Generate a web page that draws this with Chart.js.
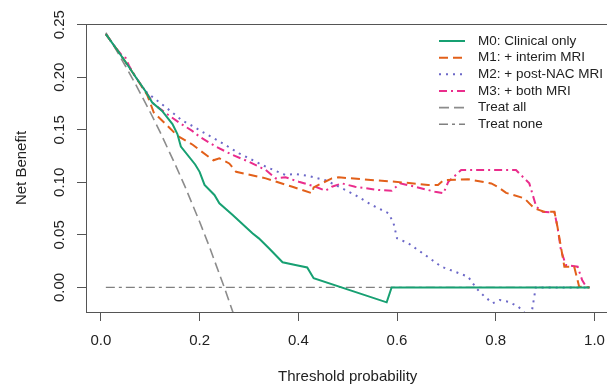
<!DOCTYPE html>
<html>
<head>
<meta charset="utf-8">
<script src="https://cdn.jsdelivr.net/npm/chart.js@4.4.1/dist/chart.umd.min.js"></script>
<style>
  html, body { margin: 0; padding: 0; background: #fff; overflow: hidden; }
  #wrap { width: 616px; height: 386px; }
</style>
</head>
<body>
<div id="wrap"><canvas id="dca" width="616" height="386"></canvas></div>
<script>
// Net benefit vs threshold probability
const m0T = [0.01, 0.03, 0.05, 0.07, 0.09, 0.104, 0.124, 0.145, 0.155, 0.162, 0.191, 0.2, 0.21, 0.23, 0.24, 0.267, 0.307, 0.32, 0.341, 0.368, 0.394, 0.418, 0.431, 0.579, 0.589, 0.99];
const m0NB = [0.241, 0.228, 0.2145, 0.2005, 0.187, 0.176, 0.168, 0.1555, 0.146, 0.134, 0.117, 0.110, 0.0975, 0.088, 0.080, 0.069, 0.0515, 0.0467, 0.037, 0.0239, 0.0213, 0.019, 0.0087, -0.0142, 0, 0];

const m1T = [0.01, 0.03, 0.05, 0.07, 0.094, 0.107, 0.131, 0.155, 0.186, 0.2, 0.228, 0.24, 0.26, 0.274, 0.334, 0.388, 0.428, 0.431, 0.468, 0.482, 0.529, 0.596, 0.663, 0.683, 0.694, 0.744, 0.791, 0.804, 0.821, 0.858, 0.868, 0.878, 0.898, 0.919, 0.925, 0.932, 0.939, 0.959, 0.969, 0.99];
const m1NB = [0.241, 0.228, 0.2145, 0.2005, 0.183, 0.1666, 0.1555, 0.1444, 0.1358, 0.1307, 0.121, 0.1229, 0.118, 0.110, 0.1038, 0.0958, 0.0896, 0.0952, 0.1038, 0.1048, 0.1029, 0.1006, 0.0975, 0.0975, 0.102, 0.1029, 0.099, 0.0958, 0.090, 0.0848, 0.080, 0.0753, 0.072, 0.072, 0.0578, 0.0388, 0.0197, 0.0197, 0.0007, 0];

const m2T = [0.01, 0.03, 0.05, 0.07, 0.087, 0.104, 0.138, 0.165, 0.192, 0.2, 0.24, 0.28, 0.334, 0.374, 0.394, 0.421, 0.455, 0.475, 0.515, 0.549, 0.583, 0.593, 0.6, 0.623, 0.657, 0.69, 0.717, 0.744, 0.761, 0.778, 0.794, 0.808, 0.825, 0.845, 0.86, 0.872, 0.878, 0.881, 0.99];
const m2NB = [0.241, 0.228, 0.2145, 0.2005, 0.188, 0.1815, 0.169, 0.1587, 0.152, 0.1495, 0.139, 0.1276, 0.1149, 0.107, 0.108, 0.106, 0.102, 0.0975, 0.088, 0.0784, 0.0705, 0.061, 0.0467, 0.042, 0.0308, 0.0197, 0.015, 0.0102, -0.001, -0.009, -0.015, -0.012, -0.0136, -0.018, -0.025, -0.026, -0.009, 0, 0];

const m3T = [0.01, 0.03, 0.045, 0.05, 0.057, 0.07, 0.09, 0.107, 0.131, 0.158, 0.185, 0.2, 0.233, 0.267, 0.3, 0.334, 0.354, 0.374, 0.401, 0.435, 0.455, 0.468, 0.488, 0.515, 0.563, 0.589, 0.606, 0.637, 0.677, 0.694, 0.704, 0.73, 0.841, 0.868, 0.882, 0.895, 0.919, 0.925, 0.932, 0.942, 0.966, 0.975, 0.983, 0.99];
const m3NB = [0.241, 0.228, 0.2195, 0.2185, 0.211, 0.2005, 0.187, 0.1745, 0.166, 0.157, 0.149, 0.1434, 0.134, 0.126, 0.1196, 0.1117, 0.1038, 0.1048, 0.1006, 0.0958, 0.092, 0.0958, 0.099, 0.0958, 0.0927, 0.092, 0.099, 0.0958, 0.091, 0.0896, 0.1006, 0.1117, 0.1117, 0.099, 0.0768, 0.072, 0.0711, 0.0578, 0.0356, 0.0213, 0.0197, 0.007, 0.0007, 0];

const allT = [0.01, 0.03, 0.05, 0.07, 0.1, 0.12, 0.15, 0.17, 0.2, 0.22, 0.25, 0.27];
const allNB = [0.2424, 0.2268, 0.2105, 0.1936, 0.1667, 0.1477, 0.1176, 0.0964, 0.0625, 0.0385, 0.0, -0.027];

const noneT = [0.01, 0.99];
const noneNB = [0, 0];

const xTicks = [0, 0.2, 0.4, 0.6, 0.8, 1.0];
const yTicks = [0, 0.05, 0.10, 0.15, 0.20, 0.25];

const FONT = '"Liberation Sans", Arial, Helvetica, sans-serif';
Chart.defaults.font.family = FONT;

function pts(ts, vs) {
    return ts.map((t, i) => ({ x: t, y: vs[i] }));
}

function series(label, ts, vs, color, dash, width) {
    return {
        label: label,
        data: pts(ts, vs),
        borderColor: color,
        borderDash: dash,
        borderWidth: width,
        pointRadius: 0,
        showLine: true,
        fill: false,
        tension: 0
    };
}

// plot frame + legend in the top-right corner (R style, no legend box)
const frameAndLegend = {
    id: 'frameAndLegend',
    afterDraw(chart) {
        const { ctx, chartArea: a } = chart;
        ctx.save();
        ctx.strokeStyle = '#555';
        ctx.lineWidth = 1;
        ctx.setLineDash([]);
        ctx.strokeRect(Math.round(a.left) + 0.5, Math.round(a.top) + 0.5,
            Math.round(a.right - a.left), Math.round(a.bottom - a.top));

        ctx.font = '13.5px ' + FONT;
        ctx.textBaseline = 'middle';
        ctx.textAlign = 'left';
        chart.data.datasets.forEach((ds, i) => {
            const y = 41 + i * 16.65;
            ctx.strokeStyle = ds.borderColor;
            ctx.lineWidth = ds.borderWidth;
            ctx.setLineDash(ds.borderDash);
            ctx.beginPath();
            ctx.moveTo(439, y);
            ctx.lineTo(465, y);
            ctx.stroke();
            ctx.setLineDash([]);
            ctx.fillStyle = '#222';
            ctx.fillText(ds.label, 478, y);
        });
        ctx.restore();
    }
};

new Chart(document.getElementById('dca'), {
    type: 'scatter',
    data: {
        datasets: [
            series('M0: Clinical only', m0T, m0NB, '#17a072', [], 2),
            series('M1: + interim MRI', m1T, m1NB, '#e2601a', [9, 5], 2),
            series('M2: + post-NAC MRI', m2T, m2NB, '#6c68c8', [2, 5], 2),
            series('M3: + both MRI', m3T, m3NB, '#ea2d8c', [8, 4, 2, 4], 2),
            series('Treat all', allT, allNB, '#8c8c8c', [10, 5], 1.6),
            series('Treat none', noneT, noneNB, '#808080', [9, 4, 3, 4], 1.4)
        ]
    },
    options: {
        responsive: false,
        animation: false,
        devicePixelRatio: 1,
        layout: { padding: { top: 24, right: 4, left: 0, bottom: 0 } },
        plugins: { legend: { display: false }, tooltip: { enabled: false } },
        scales: {
            x: {
                type: 'linear',
                min: -0.0302,
                max: 1.0302,
                afterBuildTicks: s => { s.ticks = xTicks.map(v => ({ value: v })); },
                afterFit: s => { s.height = 74; },
                grid: { display: true, drawOnChartArea: false, drawTicks: true, tickLength: 9, color: '#555' },
                border: { display: false },
                ticks: {
                    autoSkip: false, padding: 11, color: '#222',
                    font: { size: 15 },
                    callback: v => Number(v).toFixed(1)
                },
                title: {
                    display: true, text: 'Threshold probability', color: '#222',
                    font: { size: 15 }, padding: { top: 0, bottom: 0 }
                }
            },
            y: {
                type: 'linear',
                min: -0.0234,
                max: 0.2507,
                afterBuildTicks: s => { s.ticks = yTicks.map(v => ({ value: v })); },
                afterFit: s => { s.width = 86; },
                grid: { display: true, drawOnChartArea: false, drawTicks: true, tickLength: 9, color: '#555' },
                border: { display: false },
                ticks: {
                    autoSkip: false, padding: 3, color: '#222',
                    minRotation: 90, maxRotation: 90, crossAlign: 'center',
                    font: { size: 15 },
                    callback: v => Number(v).toFixed(2)
                },
                title: {
                    display: true, text: 'Net Benefit', color: '#222',
                    font: { size: 15 }, padding: { top: 13, bottom: 0 }
                }
            }
        }
    },
    plugins: [frameAndLegend]
});
</script>
</body>
</html>
